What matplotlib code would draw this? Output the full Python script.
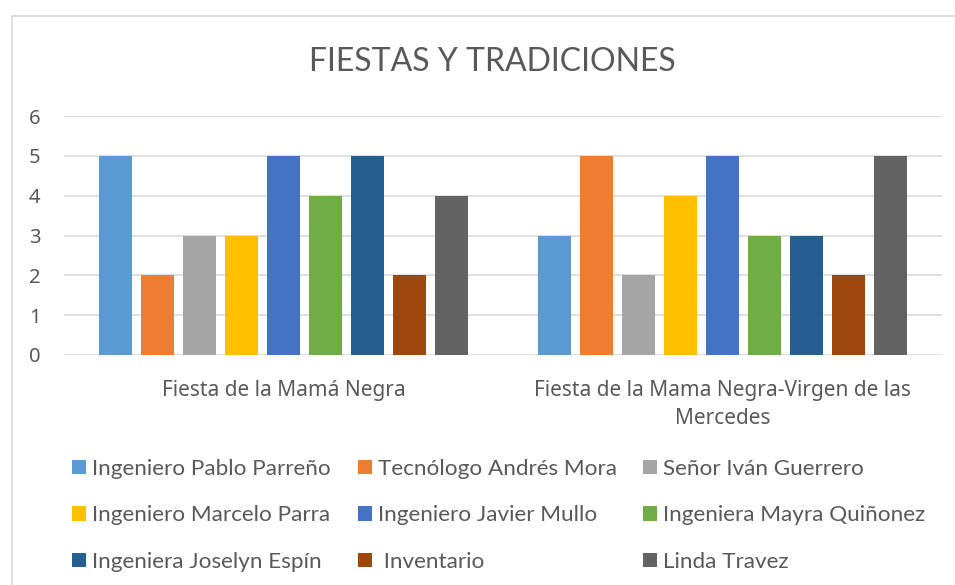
import matplotlib
matplotlib.use("Agg")
import matplotlib.pyplot as plt
from matplotlib.patches import Patch, Rectangle
import numpy as np

categories = ["Fiesta de la Mamá Negra", "Fiesta de la Mama Negra-Virgen de las\nMercedes"]
series_names = ["Ingeniero Pablo Parreño", "Tecnólogo Andrés Mora", "Señor Iván Guerrero",
                "Ingeniero Marcelo Parra", "Ingeniero Javier Mullo", "Ingeniera Mayra Quiñonez",
                "Ingeniera Joselyn Espín", " Inventario", "Linda Travez"]
values = [
    [5, 3],
    [2, 5],
    [3, 2],
    [3, 4],
    [5, 5],
    [4, 3],
    [5, 3],
    [2, 2],
    [4, 5],
]
colors = ["#5B9BD5", "#ED7D31", "#A5A5A5", "#FFC000", "#4472C4", "#70AD47",
          "#255E91", "#9E480E", "#636363"]
yticks = [0, 1, 2, 3, 4, 5, 6]
title = "FIESTAS Y TRADICIONES"

W, H = 955, 585
fig = plt.figure(figsize=(W / 100, H / 100), dpi=100)
fig.patches.append(Rectangle((12 / W, -0.1), 1.2, 1 - 16 / H + 0.1, transform=fig.transFigure,
                             facecolor="none", edgecolor="#d9d9d9", linewidth=1.2, zorder=-5))

ax = fig.add_axes([64 / W, 1 - 355 / H, (942 - 64) / W, (355 - 116) / H])
ax.set_facecolor("none")

x = np.arange(len(categories))
n = len(series_names)
step = 0.0957
width = 0.075
for i, (name, vals, c) in enumerate(zip(series_names, values, colors)):
    ax.bar(x + (i - (n - 1) / 2) * step, vals, width, color=c, label=name, zorder=3)

ax.set_xlim(-0.5, 1.5)
ax.set_ylim(0, 6)
ax.set_yticks(yticks)
ax.set_xticks(x)
ax.set_xticklabels(categories, fontfamily="Noto Sans", fontsize=15, color="#595959",
                   linespacing=1.45)
ax.tick_params(axis="x", length=0, pad=18)
ax.tick_params(axis="y", length=0, pad=17, labelsize=14.5, labelcolor="#595959")
for lbl in ax.get_yticklabels():
    lbl.set_fontfamily("Noto Sans")
ax.grid(axis="y", color="#d9d9d9", linewidth=1.2, zorder=0)
for s in ax.spines.values():
    s.set_visible(False)

fig.text(492 / W, 1 - 62 / H, title, ha="center", va="center", fontfamily="Lato",
         fontweight="normal", fontsize=23, color="#595959")

col_x = [72, 358, 643]
for col in range(3):
    idx = [col, col + 3, col + 6]
    handles = [Patch(facecolor=colors[k], edgecolor="none") for k in idx]
    labels = [series_names[k] for k in idx]
    fig.legend(handles, labels, loc="upper left",
               bbox_to_anchor=(col_x[col] / W, 1 - 459 / H),
               frameon=False, prop={"family": "Lato", "size": 16.2},
               labelcolor="#595959", handlelength=0.6, handleheight=0.6,
               handletextpad=0.28, labelspacing=1.17, borderaxespad=0, borderpad=0)

fig.savefig("out.png", dpi=100)
